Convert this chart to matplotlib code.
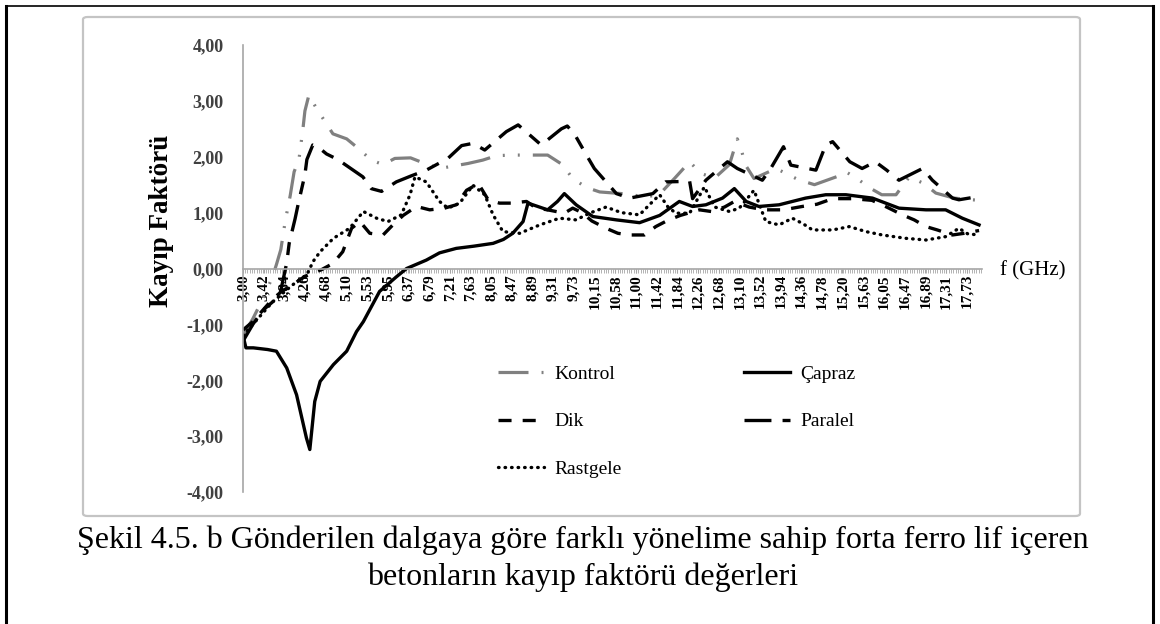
import matplotlib
matplotlib.use("Agg")
import matplotlib.pyplot as plt
from matplotlib.lines import Line2D
from matplotlib.patches import FancyBboxPatch
from matplotlib.ticker import FixedLocator, MultipleLocator

plt.rcParams['font.family'] = ['Liberation Serif', 'DejaVu Serif']
plt.rcParams['lines.scale_dashes'] = False

# etiketler (x ekseni)
x_labels = ["3,00", "3,42", "3,84", "4,26", "4,68", "5,10", "5,53", "5,95", "6,37",
            "6,79", "7,21", "7,63", "8,05", "8,47", "8,89", "9,31", "9,73", "10,15",
            "10,58", "11,00", "11,42", "11,84", "12,26", "12,68", "13,10", "13,52",
            "13,94", "14,36", "14,78", "15,20", "15,63", "16,05", "16,47", "16,89",
            "17,31", "17,73"]
y_ticks = [-4, -3, -2, -1, 0, 1, 2, 3, 4]

# veriler
kontrol_f = [3.00, 3.20, 3.40, 3.60, 3.68, 3.77, 3.86, 3.96, 4.04, 4.14, 4.22, 4.26, 4.34,
             4.50, 4.83, 5.11, 5.36, 5.61, 5.85, 6.09, 6.41, 6.70, 7.00, 7.58, 7.88, 8.16,
             8.49, 9.20, 9.50, 9.71, 9.99, 10.26, 10.87, 11.20, 11.50, 11.78, 12.09, 12.32,
             12.60, 12.90, 13.06, 13.15, 13.22, 13.40, 13.85, 14.30, 14.63, 15.20, 15.27,
             15.50, 15.74, 16.00, 16.29, 16.56, 16.86, 17.10, 17.47, 17.84, 17.98]
kontrol_v = [-1.20, -0.90, -0.55, -0.15, 0.07, 0.34, 0.85, 1.30, 1.73, 1.96, 2.50, 2.82, 3.10,
             2.86, 2.41, 2.32, 2.14, 1.94, 1.86, 1.97, 1.98, 1.88, 1.79, 1.88, 1.94, 2.02,
             2.03, 2.03, 1.86, 1.61, 1.45, 1.37, 1.33, 1.27, 1.35, 1.61, 1.91, 1.70,
             1.62, 1.86, 2.32, 2.10, 1.86, 1.61, 1.79, 1.59, 1.50, 1.68, 1.73,
             1.61, 1.45, 1.32, 1.32, 1.64, 1.52, 1.35, 1.26, 1.23, 1.22]

capraz_f = [3.00, 3.06, 3.21, 3.50, 3.68, 3.89, 4.09, 4.29, 4.36, 4.46, 4.57, 4.84, 5.11,
            5.31, 5.45, 5.78, 6.12, 6.33, 6.73, 7.00, 7.34, 7.70, 8.09, 8.30, 8.49, 8.70,
            8.80, 9.00, 9.20, 9.40, 9.54, 9.78, 10.12, 10.60, 11.07, 11.48, 11.88, 12.15,
            12.42, 12.76, 13.00, 13.24, 13.50, 13.91, 14.45, 14.86, 15.27, 15.81, 16.35,
            16.90, 17.30, 17.64, 17.98]
capraz_v = [-1.20, -1.42, -1.42, -1.45, -1.48, -1.78, -2.26, -3.03, -3.24, -2.38, -2.02, -1.72, -1.48,
            -1.13, -0.95, -0.41, -0.15, 0.00, 0.15, 0.28, 0.36, 0.40, 0.45, 0.52, 0.63, 0.84,
            1.17, 1.11, 1.05, 1.20, 1.34, 1.14, 0.93, 0.87, 0.82, 0.95, 1.20, 1.11,
            1.14, 1.26, 1.43, 1.20, 1.11, 1.14, 1.26, 1.32, 1.32, 1.26, 1.08,
            1.05, 1.05, 0.90, 0.78]

dik_f = [3.00, 3.20, 3.40, 3.60, 3.80, 4.00, 4.26, 4.60, 4.83, 5.03, 5.21, 5.38, 5.58, 5.85,
         6.05, 6.26, 6.53, 6.80, 7.10, 7.34, 7.55, 7.79, 7.99, 8.22, 8.46, 8.77, 8.97, 9.20,
         9.54, 9.71, 9.90, 10.10, 10.39, 10.63, 10.87, 11.17, 11.40, 11.64, 11.90, 12.29,
         12.53, 12.80, 13.00, 13.30, 13.60, 14.00, 14.38, 14.68, 15.00, 15.40, 15.80, 16.10,
         16.42, 16.66, 16.90, 17.13, 17.44, 17.68, 17.98]
dik_v = [-1.10, -0.95, -0.75, -0.55, -0.40, -0.30, -0.14, -0.02, 0.09, 0.30, 0.72, 0.84, 0.63, 0.60,
         0.78, 0.95, 1.11, 1.05, 1.08, 1.14, 1.40, 1.52, 1.23, 1.17, 1.17, 1.20, 1.08, 1.05,
         0.99, 1.08, 1.00, 0.85, 0.72, 0.63, 0.60, 0.60, 0.75, 0.86, 0.95, 1.05,
         1.02, 1.10, 1.20, 1.10, 1.05, 1.05, 1.11, 1.15, 1.25, 1.25, 1.22, 1.10,
         0.96, 0.87, 0.75, 0.69, 0.60, 0.63, 0.68]

paralel_f = [3.00, 3.20, 3.40, 3.60, 3.75, 3.89, 3.94, 4.06, 4.12, 4.26, 4.30, 4.42, 4.52, 4.70,
             4.93, 5.44, 5.61, 5.82, 6.12, 6.43, 6.73, 7.17, 7.45, 7.68, 7.92, 8.36, 8.60, 9.07,
             9.48, 9.60, 9.75, 9.99, 10.15, 10.60, 10.87, 11.34, 11.60, 12.09, 12.15, 12.42,
             12.86, 13.06, 13.57, 13.74, 14.00, 14.15, 14.66, 14.86, 15.00, 15.35, 15.60, 15.87,
             16.10, 16.35, 16.83, 17.03, 17.44, 17.57, 17.98]
paralel_v = [-1.30, -1.00, -0.75, -0.60, -0.47, 0.10, 0.45, 0.89, 1.14, 1.68, 1.95, 2.21, 2.18, 2.05,
             1.95, 1.64, 1.43, 1.38, 1.55, 1.66, 1.76, 1.97, 2.20, 2.24, 2.12, 2.45, 2.57, 2.21,
             2.50, 2.55, 2.40, 2.03, 1.79, 1.34, 1.26, 1.34, 1.55, 1.56, 1.25, 1.58,
             1.91, 1.79, 1.58, 1.79, 2.18, 1.85, 1.76, 2.21, 2.27, 1.91, 1.79, 1.91,
             1.76, 1.58, 1.79, 1.58, 1.26, 1.23, 1.29]

rastgele_f = [3.00, 3.20, 3.40, 3.60, 3.80, 4.00, 4.15, 4.30, 4.43, 4.57, 4.84, 5.17, 5.45, 5.72,
              5.95, 6.22, 6.40, 6.50, 6.73, 7.00, 7.17, 7.41, 7.68, 7.92, 8.09, 8.29, 8.63, 9.04,
              9.44, 9.78, 10.05, 10.39, 10.70, 11.07, 11.27, 11.48, 11.65, 11.81, 12.09, 12.39,
              12.60, 12.90, 13.10, 13.40, 13.64, 13.91, 14.18, 14.40, 14.59, 15.00, 15.34, 15.68,
              16.01, 16.49, 16.90, 17.30, 17.57, 17.75, 17.98]
rastgele_v = [-1.20, -1.00, -0.80, -0.60, -0.45, -0.30, -0.20, -0.11, 0.13, 0.30, 0.54, 0.72, 1.02, 0.90,
              0.84, 0.96, 1.32, 1.64, 1.55, 1.20, 1.08, 1.17, 1.49, 1.32, 0.96, 0.66, 0.63, 0.78,
              0.90, 0.87, 0.99, 1.10, 1.00, 0.96, 1.14, 1.32, 1.10, 0.99, 0.99, 1.46,
              1.10, 1.02, 1.08, 1.40, 0.84, 0.78, 0.90, 0.80, 0.69, 0.69, 0.75, 0.66,
              0.60, 0.54, 0.51, 0.57, 0.72, 0.62, 0.60]

W, H = 1160, 624
fig = plt.figure(figsize=(W / 100, H / 100), dpi=100)

# dış çerçeve ve grafik kutusu
fig.add_artist(Line2D([6 / W, 1153 / W], [1 - 6 / H, 1 - 6 / H], color='black', lw=1.2,
                      transform=fig.transFigure))
fig.add_artist(Line2D([6 / W, 6 / W], [0, 1 - 6 / H], color='black', lw=2.2,
                      transform=fig.transFigure))
fig.add_artist(Line2D([1153 / W, 1153 / W], [0, 1 - 6 / H], color='black', lw=2.2,
                      transform=fig.transFigure))
fig.add_artist(FancyBboxPatch((83 / W, 1 - 516 / H), (1080 - 83) / W, (516 - 17) / H,
                              boxstyle="round,pad=0,rounding_size=0.004",
                              transform=fig.transFigure, facecolor='none',
                              edgecolor='#c4c4c4', lw=1.6))

ax = fig.add_axes([243 / W, 1 - 492 / H, (982 - 243) / W, (492 - 45) / H])
ax.set_xlim(3.0, 18.04)
ax.set_ylim(-4, 4)

ax.plot(kontrol_f, kontrol_v, color='#808080', lw=2.3,
        linestyle=(0, (21.6, 9.4, 1.4, 9.4, 1.4, 9.4)), label='Kontrol')
ax.plot(capraz_f, capraz_v, color='black', lw=2.4, linestyle='-', label='Çapraz')
ax.plot(dik_f, dik_v, color='black', lw=2.4, linestyle=(0, (9.4, 8)), label='Dik')
ax.plot(paralel_f, paralel_v, color='black', lw=2.4,
        linestyle=(0, (19.4, 8, 9.4, 8)), label='Paralel')
ax.plot(rastgele_f, rastgele_v, color='black', lw=2.4, linestyle=(0, (0.4, 4.3)),
        dash_capstyle='round', label='Rastgele')

# eksenler
for s in ['top', 'right']:
    ax.spines[s].set_visible(False)
ax.spines['left'].set_color('#a6a6a6')
ax.spines['bottom'].set_color('#a6a6a6')
ax.spines['bottom'].set_position(('data', 0))
ax.spines['left'].set_linewidth(1.2)
ax.spines['bottom'].set_linewidth(1.2)

ax.set_yticks(y_ticks)
ax.set_yticklabels([f"{v:.2f}".replace('.', ',') for v in y_ticks],
                   fontsize=13, fontweight='bold', color='#404040')
ax.tick_params(axis='y', length=0, pad=14)

x_pos = [float(s.replace(',', '.')) for s in x_labels]
ax.xaxis.set_major_locator(FixedLocator(x_pos))
ax.set_xticklabels(x_labels, rotation=90, fontsize=11, fontweight='bold', color='black')
ax.xaxis.set_minor_locator(MultipleLocator(0.0468))
ax.tick_params(axis='x', which='major', length=3, color='#a6a6a6', pad=1)
ax.tick_params(axis='x', which='minor', length=3, color='#a6a6a6', width=0.6)

fig.text(162 / W, 1 - 221 / H, "Kayıp Faktörü", rotation=90, ha='center', va='center',
         fontsize=19.5, fontweight='bold', color='black')
fig.text(1000 / W, 1 - 271 / H, "f (GHz)", ha='left', va='center', fontsize=15)

# lejant
h, l = ax.get_legend_handles_labels()
order = [0, 2, 4, 1, 3]
ax.legend([h[i] for i in order], [l[i] for i in order], ncol=2, frameon=False,
          loc='upper left', bbox_to_anchor=(498 / W, 1 - 365 / H),
          bbox_transform=fig.transFigure, fontsize=14, borderpad=0, borderaxespad=0,
          handlelength=2.35, handletextpad=0.55, columnspacing=6.3, labelspacing=1.55)

# başlık
fig.text(583 / W, 1 - 540 / H,
         "Şekil 4.5. b Gönderilen dalgaya göre farklı yönelime sahip forta ferro lif içeren",
         ha='center', va='center', fontsize=23)
fig.text(583 / W, 1 - 577 / H, "betonların kayıp faktörü değerleri",
         ha='center', va='center', fontsize=23)

plt.savefig("out.png", dpi=100)
